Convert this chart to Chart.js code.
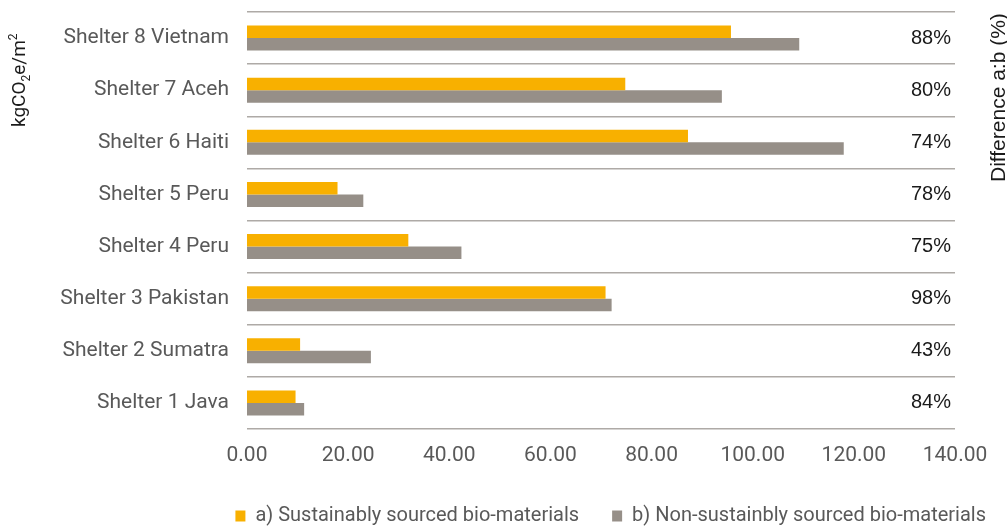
<!DOCTYPE html>
<html>
<head>
<meta charset="utf-8">
<script src="https://cdn.jsdelivr.net/npm/chart.js@4"></script>
<style>
  html, body { margin: 0; padding: 0; background: #fff; }
  #caixa { width: 1007px; height: 527px; }
</style>
</head>
<body>
<div id="caixa"><canvas id="grafico"></canvas></div>
<script>
// abrigos, de cima para baixo
const abrigos = [
  "Shelter 8 Vietnam", "Shelter 7 Aceh", "Shelter 6 Haiti", "Shelter 5 Peru",
  "Shelter 4 Peru", "Shelter 3 Pakistan", "Shelter 2 Sumatra", "Shelter 1 Java"
];
// kgCO2e/m2
const sustentavel    = [95.7, 74.8, 87.2, 17.9, 31.9, 70.9, 10.5, 9.6];
const naoSustentavel = [109.2, 93.9, 118.0, 23.0, 42.4, 72.1, 24.5, 11.3];
// diferença a:b, vai no eixo da direita
const diferenca = ["88%", "80%", "74%", "78%", "75%", "98%", "43%", "84%"];

const nomesSeries = ["a) Sustainably sourced bio-materials", "b) Non-sustainbly sourced bio-materials"];
const eixoXMax = 140;
const eixoXPasso = 20;

const FONTE = "Roboto, 'Liberation Sans', sans-serif";
const FONTE2 = "'Liberation Sans', Arial, sans-serif";
const corLaranja = "#f8b000";
const corCinza = "#968f88";
const corTexto = "#595959";

// titulos dos eixos (desenhados na mão por causa do subscrito e da rotação)
const titulosEixos = {
  id: "titulosEixos",
  afterDraw(chart) {
    const ctx = chart.ctx;

    // kgCO2e/m2
    ctx.save();
    ctx.translate(25, 127);
    ctx.rotate(-Math.PI / 2);
    ctx.fillStyle = "#1a1a1a";
    ctx.textAlign = "left";
    ctx.textBaseline = "alphabetic";
    let x = 0;
    const partes = [
      { t: "kgCO", s: 19, dy: 0 },
      { t: "2", s: 12, dy: 5 },
      { t: "e/m", s: 19, dy: 0 },
      { t: "2", s: 12, dy: -8 }
    ];
    partes.forEach(p => {
      ctx.font = p.s + "px " + FONTE;
      ctx.fillText(p.t, x, p.dy);
      x += ctx.measureText(p.t).width;
    });
    ctx.restore();

    // Difference a:b (%)
    ctx.save();
    ctx.translate(1005, 182);
    ctx.rotate(-Math.PI / 2);
    ctx.fillStyle = "#1a1a1a";
    ctx.font = "21px " + FONTE2;
    ctx.textAlign = "left";
    ctx.textBaseline = "alphabetic";
    ctx.fillText("Difference a:b (%)", 0, 0);
    ctx.restore();
  }
};

new Chart(document.getElementById("grafico"), {
  type: "bar",
  data: {
    labels: abrigos,
    datasets: [
      {
        label: nomesSeries[0],
        data: sustentavel,
        backgroundColor: corLaranja,
        categoryPercentage: 0.48,
        barPercentage: 1.0
      },
      {
        label: nomesSeries[1],
        data: naoSustentavel,
        backgroundColor: corCinza,
        categoryPercentage: 0.48,
        barPercentage: 1.0
      }
    ]
  },
  options: {
    indexAxis: "y",
    responsive: true,
    maintainAspectRatio: false,
    animation: false,
    layout: { padding: { top: 12, right: -12, left: 0, bottom: -9 } },
    plugins: {
      title: { display: false },
      tooltip: { enabled: false },
      legend: {
        position: "bottom",
        align: "end",
        labels: {
          boxWidth: 10,
          boxHeight: 11,
          padding: 33,
          color: corTexto,
          font: { size: 20, family: FONTE }
        }
      }
    },
    scales: {
      x: {
        min: 0,
        max: eixoXMax,
        grid: { display: false },
        border: { display: false },
        ticks: {
          stepSize: eixoXPasso,
          maxRotation: 0,
          padding: 6,
          color: corTexto,
          font: { size: 21, family: FONTE },
          callback: v => Number(v).toFixed(2)
        },
        afterFit: s => { s.height = 44; }
      },
      y: {
        grid: { color: "#aeaaa6", lineWidth: 1.5, drawTicks: false },
        border: { display: false },
        ticks: {
          padding: 18,
          color: corTexto,
          font: { size: 21, family: FONTE }
        },
        afterFit: s => { s.width = 247; s.paddingTop = 0; s.paddingBottom = 0; }
      },
      y2: {
        type: "category",
        labels: diferenca,
        position: "right",
        offset: true,
        grid: { display: false, drawTicks: false },
        border: { display: false },
        ticks: {
          mirror: true,
          padding: -4,
          color: "#1a1a1a",
          font: { size: 20, family: FONTE2 }
        },
        afterFit: s => { s.width = 64; s.paddingTop = 0; s.paddingBottom = 0; }
      }
    }
  },
  plugins: [titulosEixos]
});
</script>
</body>
</html>
